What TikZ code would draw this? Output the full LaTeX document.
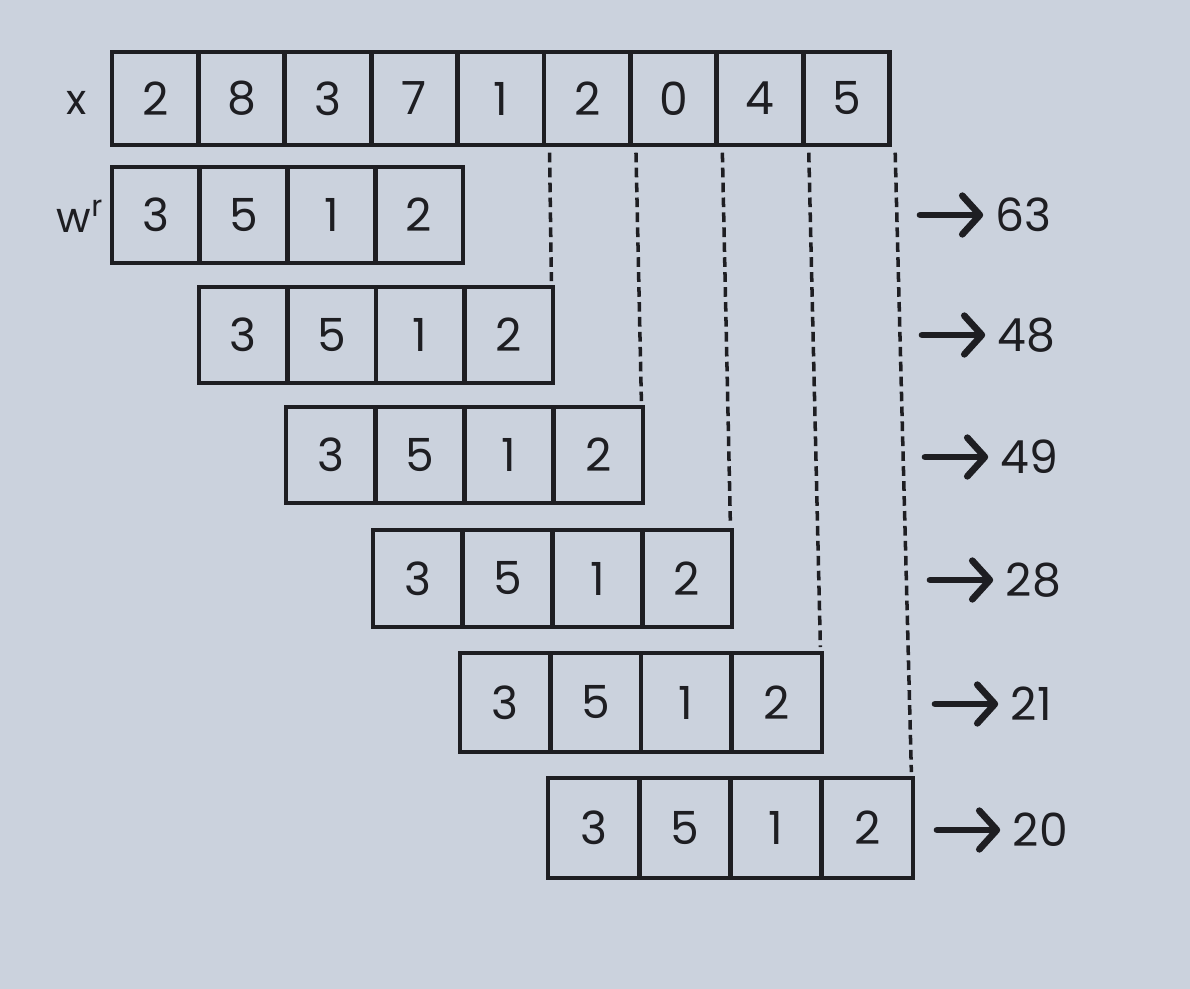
\documentclass[tikz,border=0pt]{standalone}
\usepackage{fontspec}
\setmainfont{Poppins}
\usetikzlibrary{arrows.meta}
\definecolor{paper}{RGB}{203,210,221}
\definecolor{ink}{RGB}{30,30,34}
\tikzset{
	cell/.style={draw=ink, line width=2.8pt, inner sep=0pt, text=ink, font=\fontsize{26}{30}\selectfont},
	guide/.style={draw=ink, line width=2pt, dash pattern=on 5.5pt off 3pt, shorten <=3pt, shorten >=2pt},
	result/.style={anchor=west, inner sep=2pt, text=ink, font=\fontsize{26}{30}\selectfont},
	pointer/.style={draw=ink, line width=3.8pt, line cap=round, shorten >=5pt, -{Straight Barb[length=10pt, width=22pt, round]}},
	rowname/.style={text=ink, font=\fontsize{24}{28}\selectfont}
}
\begin{document}
\begin{tikzpicture}[x ={(0.02 cm , 0 cm )}, y ={(0 cm , -0.02 cm )}]
	\fill[paper] (0,0) rectangle (1190,989);
	% input row
	\foreach \v [count=\i] in {2,8,3,7,1,2,0,4,5}
		\node[cell, minimum width=86.4*0.02cm, minimum height=93*0.02cm] (x\i) at ({112+86.4*(\i-0.5)},98.5) {\v};
	\node[rowname] (xname) at (77,103) {x};
	% reversed kernel, one row per shift
	\foreach \j/\l/\w/\t/\b in {1/112/87.75/167/263, 2/199/88.5/287/383, 3/286/89.25/407/503, 4/373/89.75/530/627, 5/460/90.5/653/752, 6/548/91.25/778/878}
		\foreach \v [count=\i] in {3,5,1,2}
			\node[cell, minimum width=\w*0.02cm, minimum height={(\b-\t)*0.02cm}] (r\j-\i) at ({\l+\w*(\i-0.5)},{(\t+\b)/2}) {\v};
	\node[rowname] (wname) at (80,216) {w\textsuperscript{r}};
	% guides from x down to the last cell of each shifted row
	\foreach \j in {2,...,6}{
		\pgfmathtruncatemacro\k{\j+3}
		\draw[guide] ([xshift=0.06cm]x\k.south east) -- ([xshift=-0.08cm]r\j-4.north east);
	}
	% results
	\foreach \j/\y/\a/\s in {1/215/920/63, 2/335/922/48, 3/457/925/49, 4/580/930/28, 5/704/935/21, 6/830/937/20}{
		\coordinate (a\j) at (\a,\y);
		\node[result] (s\j) at (\a+72,\y) {\s};
		\draw[pointer] (a\j) -- (s\j.west);
	}
\end{tikzpicture}
\end{document}
